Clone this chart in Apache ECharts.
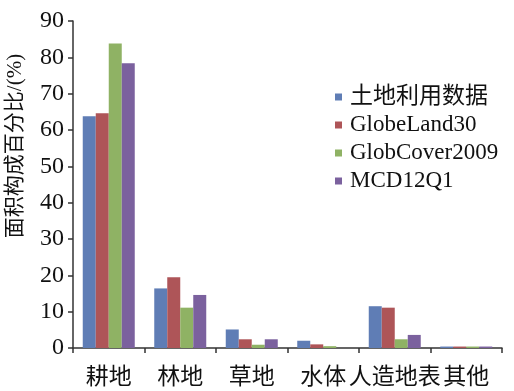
<!DOCTYPE html>
<html>
<head>
<meta charset="utf-8">
<script src="https://cdn.jsdelivr.net/npm/echarts@6/dist/echarts.min.js"></script>
<style>html,body{margin:0;padding:0;background:#fff;}#c{width:514px;height:391px;}</style>
</head>
<body>
<div id="c"></div>
<script>
const categories = ['耕地', '林地', '草地', '水体', '人造地表', '其他'];
const seriesNames = ['土地利用数据', 'GlobeLand30', 'GlobCover2009', 'MCD12Q1'];
const landUse = [63.8, 16.4, 5.1, 2.0, 11.5, 0.4];
const globeLand30 = [64.6, 19.5, 2.4, 1.0, 11.1, 0.4];
const globCover2009 = [83.8, 11.1, 0.9, 0.5, 2.4, 0.4];
const mcd12q1 = [78.4, 14.6, 2.4, 0, 3.6, 0.4];
const yTicks = [0, 10, 20, 30, 40, 50, 60, 70, 80, 90];
const colors = ['#5f7db5', '#ae5558', '#8fb264', '#7b619e'];

const serif = '"Liberation Serif", "Noto Sans CJK SC", serif';
const values = [landUse, globeLand30, globCover2009, mcd12q1];

const chart = echarts.init(document.getElementById('c'), null, {renderer: 'canvas'});
chart.setOption({
  animation: false,
  color: colors,
  grid: {left: 73, right: 12, top: 21, bottom: 43, containLabel: false},
  legend: {
    orient: 'vertical',
    left: 330,
    top: 80,
    itemWidth: 7,
    itemHeight: 7,
    itemGap: 4,
    icon: 'rect',
    textStyle: {fontFamily: serif, fontSize: 23, color: '#111', lineHeight: 24, padding: [0, 0, 0, 3]},
    data: seriesNames
  },
  xAxis: {
    type: 'category',
    data: categories,
    axisLine: {lineStyle: {color: '#333', width: 1.5}},
    axisTick: {show: true, length: 5, lineStyle: {color: '#333', width: 1.5}},
    axisLabel: {fontFamily: serif, fontSize: 23, color: '#111', margin: 18, interval: 0}
  },
  yAxis: {
    type: 'value',
    min: yTicks[0],
    max: yTicks[yTicks.length - 1],
    interval: 10,
    splitLine: {show: false},
    axisLine: {show: true, lineStyle: {color: '#333', width: 1.5}},
    axisTick: {show: true, length: 5, lineStyle: {color: '#333', width: 1.5}},
    axisLabel: {fontFamily: serif, fontSize: 24, color: '#111', margin: 9}
  },
  graphic: [{
    type: 'text',
    x: 15,
    y: 146,
    rotation: Math.PI / 2,
    style: {
      text: '面积构成百分比/(%)',
      fontFamily: serif,
      fontSize: 21,
      fill: '#111',
      align: 'center',
      verticalAlign: 'middle'
    }
  }],
  series: seriesNames.map((n, i) => ({
    name: n,
    type: 'bar',
    data: values[i],
    barWidth: 13,
    barGap: '0%',
    itemStyle: {color: colors[i]}
  }))
});
</script>
</body>
</html>
